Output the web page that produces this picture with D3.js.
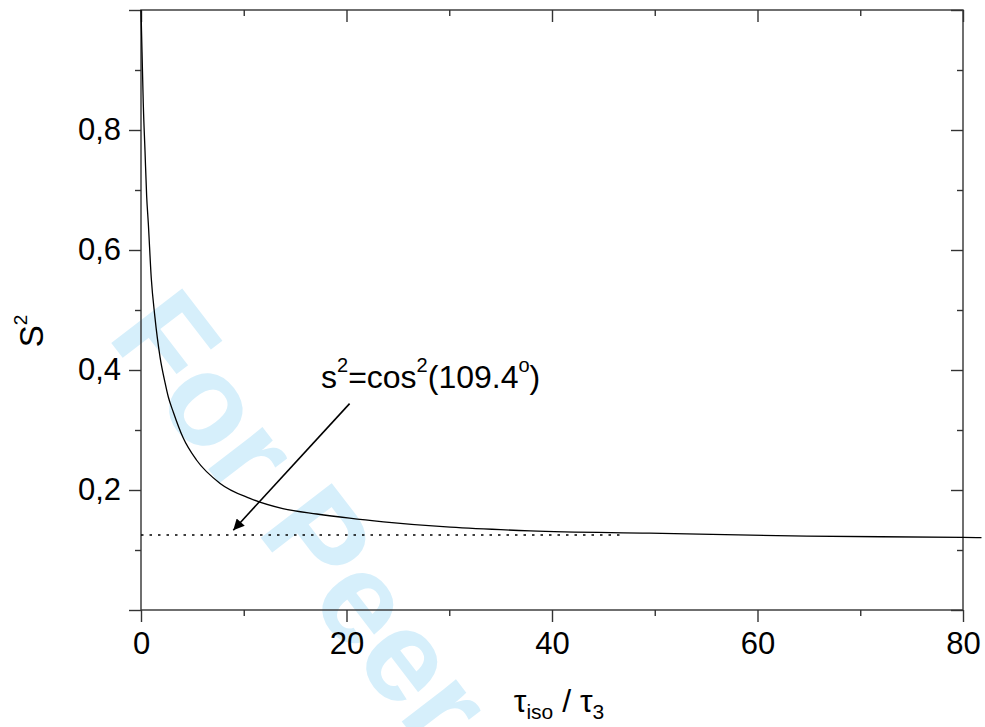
<!DOCTYPE html>
<html>
<head>
<meta charset="utf-8">
<script src="https://cdn.jsdelivr.net/npm/d3@7"></script>
<style>
  html, body { margin: 0; padding: 0; background: #fff; }
  svg { display: block; }
  text { font-family: "Liberation Sans", Arial, Helvetica, sans-serif; }
</style>
</head>
<body>
<svg id="chart" width="985" height="727"></svg>
<script>
// Order parameter versus correlation-time ratio
const tauRatio = [0, 0.1, 0.22, 0.39, 0.55, 0.71, 1.0, 1.35, 1.85, 2.34, 2.66, 3.14, 4.1, 5.4, 7.7, 10.6, 13.8, 17.1, 20.3, 23.6, 30.1, 37.9, 49.5, 64.8, 80, 81.8];
const orderS2 = [1.0, 0.93, 0.845, 0.765, 0.69, 0.645, 0.553, 0.489, 0.422, 0.379, 0.355, 0.33, 0.287, 0.25, 0.211, 0.186, 0.169, 0.16, 0.153, 0.147, 0.138, 0.132, 0.128, 0.123, 0.121, 0.1205];

// Horizontal reference level and its extent
const limitLevel = 0.125;
const limitRange = [0, 46.8];

// Axis ticks
const xMajorTicks = [0, 20, 40, 60, 80];
const xMinorTicks = [10, 30, 50, 70];
const yMajorTicks = [0, 0.2, 0.4, 0.6, 0.8, 1.0];
const yMinorTicks = [0.1, 0.3, 0.5, 0.7, 0.9];
const yLabelled = [0.2, 0.4, 0.6, 0.8];

// Annotation arrow (data coordinates): tail then head
const arrowTail = [20.3, 0.344];
const arrowHead = [8.98, 0.133];

const svg = d3.select("#chart");
const x = d3.scaleLinear().domain([0, 80]).range([141, 963]);
const y = d3.scaleLinear().domain([0, 1]).range([610, 10]);

// Watermark
svg.append("text")
  .attr("transform", "translate(106,336) rotate(52.5)")
  .attr("font-size", 130)
  .attr("font-weight", "bold")
  .attr("fill", "#d6effb")
  .text("For Peer");

const axisColor = "#333";
const fmt = d => d3.format(".1f")(d).replace(".", ",");

function styleAxis(g) {
  g.select(".domain").remove();
  g.selectAll(".tick line").attr("stroke", axisColor).attr("stroke-width", 1.4);
}

// Left axis (outward ticks, labels)
svg.append("g").attr("transform", `translate(${x(0)},0)`)
  .call(d3.axisLeft(y).tickValues(yMajorTicks).tickSize(12).tickPadding(8)
    .tickFormat(d => yLabelled.includes(d) ? fmt(d) : ""))
  .call(styleAxis)
  .call(g => g.selectAll("text").attr("font-size", 31).attr("fill", "#000")
    .attr("font-family", "Liberation Sans, Arial, sans-serif"));
svg.append("g").attr("transform", `translate(${x(0)},0)`)
  .call(d3.axisLeft(y).tickValues(yMinorTicks).tickSize(6).tickFormat(""))
  .call(styleAxis);

// Bottom axis (outward ticks, labels)
svg.append("g").attr("transform", `translate(0,${y(0)})`)
  .call(d3.axisBottom(x).tickValues(xMajorTicks).tickSize(12).tickPadding(10)
    .tickFormat(d3.format("d")))
  .call(styleAxis)
  .call(g => g.selectAll("text").attr("font-size", 31).attr("fill", "#000")
    .attr("font-family", "Liberation Sans, Arial, sans-serif"));
svg.append("g").attr("transform", `translate(0,${y(0)})`)
  .call(d3.axisBottom(x).tickValues(xMinorTicks).tickSize(6).tickFormat(""))
  .call(styleAxis);

// Top axis (inward ticks)
svg.append("g").attr("transform", `translate(0,${y(1)})`)
  .call(d3.axisTop(x).tickValues(xMajorTicks).tickSize(-12).tickFormat(""))
  .call(styleAxis);
svg.append("g").attr("transform", `translate(0,${y(1)})`)
  .call(d3.axisTop(x).tickValues(xMinorTicks).tickSize(-6).tickFormat(""))
  .call(styleAxis);

// Right axis (inward ticks)
svg.append("g").attr("transform", `translate(${x(80)},0)`)
  .call(d3.axisRight(y).tickValues(yMajorTicks).tickSize(-12).tickFormat(""))
  .call(styleAxis);
svg.append("g").attr("transform", `translate(${x(80)},0)`)
  .call(d3.axisRight(y).tickValues(yMinorTicks).tickSize(-6).tickFormat(""))
  .call(styleAxis);

// Frame
svg.append("rect")
  .attr("x", x(0)).attr("y", y(1))
  .attr("width", x(80) - x(0)).attr("height", y(0) - y(1))
  .attr("fill", "none").attr("stroke", axisColor).attr("stroke-width", 1.4);

// Reference level (dotted)
svg.append("line")
  .attr("x1", x(limitRange[0])).attr("x2", x(limitRange[1]))
  .attr("y1", y(limitLevel)).attr("y2", y(limitLevel))
  .attr("stroke", "#000").attr("stroke-width", 1.6)
  .attr("stroke-dasharray", "2.5,6");

// Curve
const line = d3.line().x((d, i) => x(tauRatio[i])).y(d => y(d)).curve(d3.curveMonotoneX);
svg.append("path")
  .datum(orderS2)
  .attr("d", line)
  .attr("fill", "none").attr("stroke", "#000").attr("stroke-width", 1.3);

// Arrow
svg.append("defs").append("marker")
  .attr("id", "head").attr("viewBox", "0 0 10 10")
  .attr("refX", 10).attr("refY", 5)
  .attr("markerWidth", 16).attr("markerHeight", 11)
  .attr("markerUnits", "userSpaceOnUse")
  .attr("orient", "auto")
  .append("path").attr("d", "M0,0 L10,5 L0,10 Z").attr("fill", "#000");
svg.append("line")
  .attr("x1", x(arrowTail[0])).attr("y1", y(arrowTail[1]))
  .attr("x2", x(arrowHead[0])).attr("y2", y(arrowHead[1]))
  .attr("stroke", "#000").attr("stroke-width", 1.6)
  .attr("marker-end", "url(#head)");

// Annotation text
const ann = svg.append("text").attr("x", 321).attr("y", 388).attr("font-size", 32).attr("fill", "#000");
ann.append("tspan").text("s");
ann.append("tspan").attr("font-size", 20).attr("dy", -16).text("2");
ann.append("tspan").attr("dy", 16).text("=cos");
ann.append("tspan").attr("font-size", 20).attr("dy", -16).text("2");
ann.append("tspan").attr("dy", 16).text("(109.4");
ann.append("tspan").attr("font-size", 20).attr("dy", -16).text("o");
ann.append("tspan").attr("dy", 16).text(")");

// Y axis title
const yt = svg.append("text")
  .attr("transform", "translate(43,331) rotate(-90)")
  .attr("text-anchor", "middle").attr("font-size", 33).attr("fill", "#000");
yt.append("tspan").text("S");
yt.append("tspan").attr("font-size", 19).attr("dy", -16).text("2");

// X axis title
const xt = svg.append("text")
  .attr("x", 559).attr("y", 712)
  .attr("text-anchor", "middle").attr("font-size", 32).attr("fill", "#000");
xt.append("tspan").text("τ");
xt.append("tspan").attr("font-size", 21).attr("dy", 7).text("iso");
xt.append("tspan").attr("dy", -7).text(" / τ");
xt.append("tspan").attr("font-size", 21).attr("dy", 7).text("3");
</script>
</body>
</html>
